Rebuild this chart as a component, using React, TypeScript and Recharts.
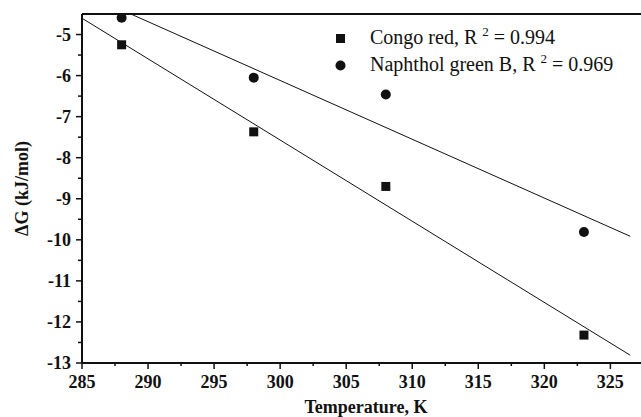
import React from 'react';
import {
  ScatterChart,
  Scatter,
  XAxis,
  YAxis,
  ReferenceLine,
} from 'recharts';

// Gibbs free energy vs temperature
const TEMPERATURES = [288, 298, 308, 323];
const CONGO_RED = [-5.25, -7.37, -8.7, -12.32];
const NAPHTHOL_GREEN = [-4.59, -6.05, -6.46, -9.81];

const X_TICKS = [285, 287.5, 290, 292.5, 295, 297.5, 300, 302.5, 305, 307.5, 310, 312.5, 315, 317.5, 320, 322.5, 325, 327.5];
const Y_TICKS = [-13, -12.5, -12, -11.5, -11, -10.5, -10, -9.5, -9, -8.5, -8, -7.5, -7, -6.5, -6, -5.5, -5];
const FIT_RANGE = [285, 326.5];

const LEGEND = [
  { name: 'Congo red', r2: '0.994', marker: 'square' },
  { name: 'Naphthol green B', r2: '0.969', marker: 'circle' },
];

const INK = '#111';
const FONT = 'Liberation Serif, serif';

const toPoints = (ys: number[]) => TEMPERATURES.map((t, i) => ({ x: t, y: ys[i] }));

// least-squares fit of the plotted points
const fitSegment = (ys: number[]) => {
  const n = TEMPERATURES.length;
  const mx = TEMPERATURES.reduce((a, b) => a + b, 0) / n;
  const my = ys.reduce((a, b) => a + b, 0) / n;
  let sxy = 0;
  let sxx = 0;
  TEMPERATURES.forEach((t, i) => {
    sxy += (t - mx) * (ys[i] - my);
    sxx += (t - mx) * (t - mx);
  });
  const slope = sxy / sxx;
  return FIT_RANGE.map((x) => ({ x, y: my + slope * (x - mx) }));
};

const congoData = toPoints(CONGO_RED);
const naphtholData = toPoints(NAPHTHOL_GREEN);
const congoFit = fitSegment(CONGO_RED);
const naphtholFit = fitSegment(NAPHTHOL_GREEN);

const SquareDot = (props: any) => (
  <rect x={props.cx - 4.5} y={props.cy - 4.5} width={9} height={9} fill={INK} />
);
const RoundDot = (props: any) => <circle cx={props.cx} cy={props.cy} r={5} fill={INK} />;

const XTick = (props: any) => {
  const { x, y, payload } = props;
  const major = payload.value % 5 === 0;
  return (
    <g>
      <line x1={x} x2={x} y1={y} y2={y + (major ? 6 : 3)} stroke={INK} strokeWidth={1.5} />
      {major && (
        <text x={x} y={y + 25} textAnchor="middle" style={{ fontFamily: FONT, fontWeight: 'bold', fontSize: 18 }} fill={INK}>
          {payload.value}
        </text>
      )}
    </g>
  );
};

const YTick = (props: any) => {
  const { x, y, payload } = props;
  const major = Number.isInteger(payload.value);
  return (
    <g>
      <line x1={x} x2={x - (major ? 6 : 4)} y1={y} y2={y} stroke={INK} strokeWidth={1.5} />
      {major && (
        <text x={x - 11} y={y + 6} textAnchor="end" style={{ fontFamily: FONT, fontWeight: 'bold', fontSize: 18 }} fill={INK}>
          {payload.value}
        </text>
      )}
    </g>
  );
};

const LegendBox = () => (
  <div
    style={{
      position: 'absolute',
      left: 335,
      top: 24,
      fontFamily: FONT,
      fontSize: 20,
      color: INK,
      lineHeight: '27px',
      whiteSpace: 'nowrap',
    }}
  >
    {LEGEND.map((item) => (
      <div key={item.name} style={{ display: 'flex', alignItems: 'center' }}>
        <svg width={35} height={20}>
          {item.marker === 'square' ? (
            <rect x={1} y={6} width={9} height={9} fill={INK} />
          ) : (
            <circle cx={5.5} cy={10.5} r={5} fill={INK} />
          )}
        </svg>
        <span>
          {item.name}, R <sup style={{ fontSize: 13, lineHeight: 0 }}>2</sup> = {item.r2}
        </span>
      </div>
    ))}
  </div>
);

export default function App() {
  return (
    <div style={{ position: 'absolute', left: 0, top: 0, width: 641, height: 417, overflow: 'hidden', background: '#fff' }}>
      <ScatterChart width={652} height={417} margin={{ top: 14, right: 2, bottom: 0, left: 0 }}>
        <XAxis
          type="number"
          dataKey="x"
          domain={[285, 328]}
          ticks={X_TICKS}
          allowDataOverflow
          interval={0}
          height={54}
          tickSize={0}
          tickMargin={0}
          tick={<XTick />}
          axisLine={{ stroke: INK, strokeWidth: 2 }}
          label={{
            value: 'Temperature, K',
            position: 'insideBottom',
            offset: 4,
            style: { fontFamily: FONT, fontWeight: 'bold', fontSize: 18, fill: INK },
          }}
        />
        <YAxis
          type="number"
          dataKey="y"
          domain={[-13, -4.5]}
          ticks={Y_TICKS}
          allowDataOverflow
          interval={0}
          width={82}
          tickSize={0}
          tickMargin={0}
          tick={<YTick />}
          axisLine={{ stroke: INK, strokeWidth: 2 }}
          label={{
            value: 'ΔG (kJ/mol)',
            angle: -90,
            position: 'insideLeft',
            offset: 22,
            style: { fontFamily: FONT, fontWeight: 'bold', fontSize: 18, fill: INK, textAnchor: 'middle' },
          }}
        />
        <ReferenceLine y={-4.5} stroke={INK} strokeWidth={2} />
        <Scatter data={congoFit} line={{ stroke: INK, strokeWidth: 1 }} shape={() => null} isAnimationActive={false} />
        <Scatter data={naphtholFit} line={{ stroke: INK, strokeWidth: 1 }} shape={() => null} isAnimationActive={false} />
        <Scatter name="Congo red" data={congoData} shape={<SquareDot />} isAnimationActive={false} />
        <Scatter name="Naphthol green B" data={naphtholData} shape={<RoundDot />} isAnimationActive={false} />
      </ScatterChart>
      <LegendBox />
    </div>
  );
}
